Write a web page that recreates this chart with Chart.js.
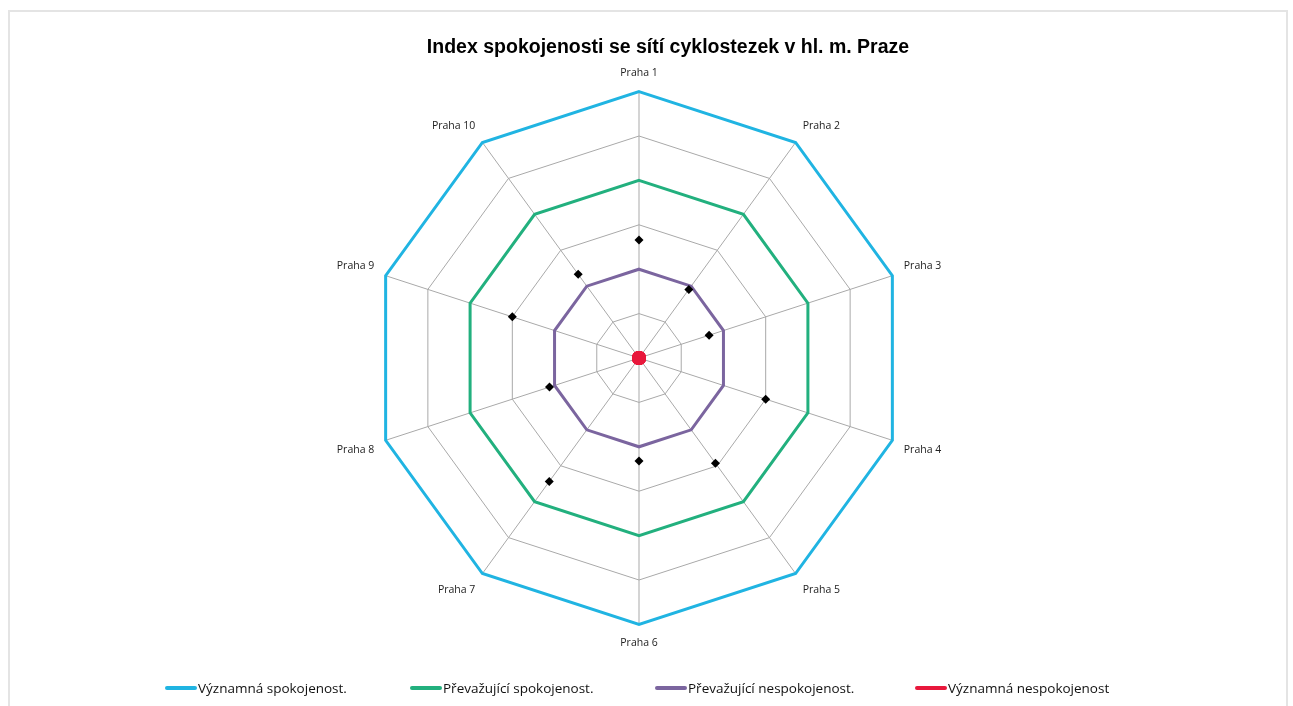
<!DOCTYPE html>
<html lang="cs">
<head>
<meta charset="utf-8">
<title>Index spokojenosti</title>
<script src="https://cdn.jsdelivr.net/npm/chart.js@4.4.1/dist/chart.umd.min.js"></script>
<style>
  html, body { margin: 0; padding: 0; background: #fff; }
  #wrap { position: relative; width: 1293px; height: 706px; overflow: hidden; }
  #frame { position: absolute; left: 8px; top: 10px; width: 1276px; height: 720px;
           border: 2px solid #e4e4e4; border-bottom: none; }
  #title { position: absolute; left: 0; top: 36px; width: 1336px; text-align: center;
           font: bold 19.5px "Liberation Sans", Arial, sans-serif; line-height: 20px; color: #000; }
  #myChart { position: absolute; left: 0; top: 0; }
  #legend { position: absolute; left: 165px; top: 679px; display: flex;
            font: 13.5px "Open Sans", sans-serif; line-height: 18px; color: #111; }
  .item { display: flex; align-items: center; }
  .swatch { width: 32px; height: 4px; border-radius: 2px; margin-right: 1px; }
  .txt { white-space: nowrap; }
</style>
</head>
<body>
<div id="wrap">
  <div id="frame"></div>
  <canvas id="myChart" width="1293" height="706"></canvas>
  <div id="title">Index spokojenosti se sítí cyklostezek v hl. m. Praze</div>
  <div id="legend"></div>
</div>
<script>
// data
const districts = ['Praha 1', 'Praha 2', 'Praha 3', 'Praha 4', 'Praha 5',
                   'Praha 6', 'Praha 7', 'Praha 8', 'Praha 9', 'Praha 10'];
const indexValues = [2.66, 1.91, 1.66, 3.0, 2.93, 2.32, 3.44, 2.12, 3.0, 2.33];
const vyznamnaSpokojenost = [6, 6, 6, 6, 6, 6, 6, 6, 6, 6];
const prevazujiciSpokojenost = [4, 4, 4, 4, 4, 4, 4, 4, 4, 4];
const prevazujiciNespokojenost = [2, 2, 2, 2, 2, 2, 2, 2, 2, 2];
const vyznamnaNespokojenost = [0, 0, 0, 0, 0, 0, 0, 0, 0, 0];

const gridColor = '#a9a9a9';

function lineSet(label, data, color, order) {
    return {
        label: label,
        data: data,
        borderColor: color,
        backgroundColor: 'transparent',
        borderWidth: 3,
        borderJoinStyle: 'miter',
        pointRadius: 0,
        fill: false,
        order: order
    };
}

const ctx = document.getElementById('myChart').getContext('2d');

const myChart = new Chart(ctx, {
    type: 'radar',
    data: {
        labels: districts,
        datasets: [
            lineSet('Významná spokojenost.', vyznamnaSpokojenost, '#20b4e2', 5),
            lineSet('Převažující spokojenost.', prevazujiciSpokojenost, '#22b07e', 4),
            lineSet('Převažující nespokojenost.', prevazujiciNespokojenost, '#7b659f', 3),
            {
                label: 'Významná nespokojenost',
                data: vyznamnaNespokojenost,
                borderColor: '#e8183c',
                backgroundColor: 'transparent',
                borderWidth: 3,
                pointRadius: 7,
                pointBorderWidth: 0,
                pointBackgroundColor: '#e8183c',
                fill: false,
                order: 2
            },
            {
                label: 'Index',
                data: indexValues,
                showLine: false,
                fill: false,
                pointStyle: 'rectRot',
                pointRadius: 4.5,
                pointBorderWidth: 0,
                pointBackgroundColor: '#000',
                borderColor: 'transparent',
                backgroundColor: 'transparent',
                order: 1
            }
        ]
    },
    options: {
        responsive: false,
        animation: false,
        layout: {
            padding: { top: 67, bottom: 56, left: 0, right: 14 }
        },
        plugins: {
            legend: { display: false },
            title: { display: false },
            tooltip: { enabled: false }
        },
        scales: {
            r: {
                min: 0,
                max: 6,
                ticks: { stepSize: 1, display: false },
                grid: { color: gridColor, lineWidth: 1 },
                angleLines: { color: gridColor, lineWidth: 1 },
                pointLabels: {
                    padding: 12,
                    color: '#222',
                    font: { family: '"Open Sans", sans-serif', size: 10.5 }
                }
            }
        }
    }
});

// legend below the chart, built from the datasets
const legendEl = document.getElementById('legend');
const itemWidths = [245, 245, 260, 220];
myChart.data.datasets.filter(d => d.label !== 'Index').forEach((d, i) => {
    const item = document.createElement('div');
    item.className = 'item';
    item.style.width = itemWidths[i] + 'px';
    const sw = document.createElement('span');
    sw.className = 'swatch';
    sw.style.background = d.borderColor;
    const txt = document.createElement('span');
    txt.className = 'txt';
    txt.textContent = d.label;
    item.appendChild(sw);
    item.appendChild(txt);
    legendEl.appendChild(item);
});
</script>
</body>
</html>
